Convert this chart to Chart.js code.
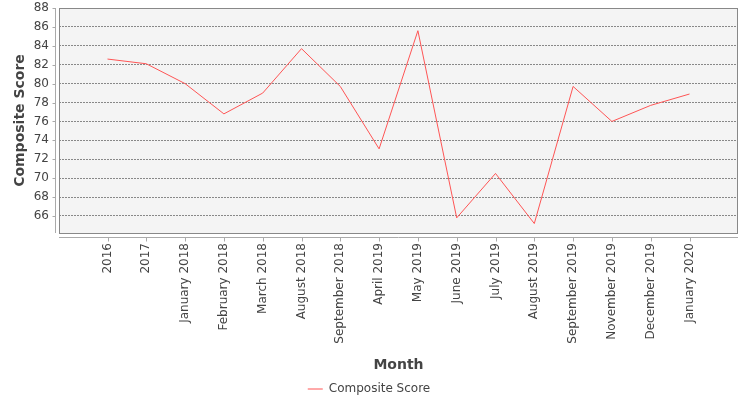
<!DOCTYPE html>
<html><head><meta charset="utf-8">
<script src="https://cdn.jsdelivr.net/npm/chart.js@4/dist/chart.umd.min.js"></script>
<style>html,body{margin:0;padding:0;background:#fff}</style>
</head><body>
<canvas id="c" width="750" height="400"></canvas>
<script>
const months = ['2016','2017','January 2018','February 2018','March 2018','August 2018','September 2018','April 2019','May 2019','June 2019','July 2019','August 2019','September 2019','November 2019','December 2019','January 2020'];
const compositeScore = [82.6, 82.1, 80.0, 76.8, 79.0, 83.7, 79.7, 73.1, 85.6, 65.8, 70.5, 65.2, 79.7, 76.0, 77.7, 78.9];
const yTicks = [66,68,70,72,74,76,78,80,82,84,86,88];
const seriesName = 'Composite Score';
const xTitle = 'Month';
const yTitle = 'Composite Score';

Chart.defaults.font.family = 'DejaVu Sans';
Chart.defaults.color = '#444';

const decor = {
  id: 'decor',
  afterLayout(chart) {
    const L = chart.legend;
    if (L) { L.top += 5; L.bottom += 5; }
  },
  beforeDraw(chart) {
    const {ctx, chartArea: a} = chart;
    ctx.save();
    ctx.fillStyle = '#f4f4f4';
    ctx.fillRect(a.left, a.top, a.right - a.left, a.bottom - a.top);
    ctx.strokeStyle = '#888';
    ctx.lineWidth = 1;
    ctx.strokeRect(Math.round(a.left) + 0.5, Math.round(a.top) + 0.5, Math.round(a.right - a.left) - 1, Math.round(a.bottom - a.top));
    ctx.restore();
  },
  afterDraw(chart) {
    const {ctx, chartArea: a, scales} = chart;
    ctx.save();
    ctx.strokeStyle = '#aaa';
    ctx.lineWidth = 1;
    ctx.beginPath();
    const ax = Math.round(a.left) - 4 + 0.5;
    ctx.moveTo(ax, a.top); ctx.lineTo(ax, a.bottom);
    scales.y.ticks.forEach(t => {
      const py = Math.round(scales.y.getPixelForValue(t.value)) + 0.5;
      ctx.moveTo(ax - 3, py); ctx.lineTo(ax, py);
    });
    const ay = Math.round(a.bottom) + 4 + 0.5;
    ctx.moveTo(a.left, ay); ctx.lineTo(a.right, ay);
    scales.x.ticks.forEach(t => {
      const px = Math.round(scales.x.getPixelForValue(t.value)) + 0.5;
      ctx.moveTo(px, ay); ctx.lineTo(px, ay + 4);
    });
    ctx.stroke();
    ctx.restore();
  }
};

new Chart(document.getElementById('c'), {
  type: 'line',
  data: {
    datasets: [{
      label: seriesName,
      data: compositeScore.map((v, i) => ({x: i, y: v})),
      borderColor: '#ff5555',
      backgroundColor: '#ff5555',
      borderWidth: 1,
      pointRadius: 0,
      tension: 0,
      fill: false
    }]
  },
  options: {
    responsive: false,
    animation: false,
    devicePixelRatio: 1,
    layout: {padding: {left: 0, right: 12, top: 8, bottom: 0}},
    plugins: {
      tooltip: {enabled: false},
      legend: {
        position: 'bottom',
        labels: {
          usePointStyle: true, pointStyle: 'line', pointStyleWidth: 15, boxHeight: 12,
          color: '#444', font: {size: 12}, padding: 6
        }
      }
    },
    scales: {
      x: {
        type: 'linear', min: -1.25, max: 16.25,
        afterBuildTicks: s => { s.ticks = months.map((m, i) => ({value: i})); },
        afterFit: s => { s.height = 400 - 233 - s.chart.legend.height; },
        ticks: {autoSkip: false, minRotation: 90, maxRotation: 90, padding: 10, color: '#444', font: {size: 12},
          callback: v => months[v]},
        grid: {display: false, drawTicks: false},
        border: {display: false},
        title: {display: true, text: xTitle, color: '#444', font: {size: 14, weight: 'bold'}, padding: {top: 4, bottom: -2}}
      },
      y: {
        min: 64.2, max: 88,
        afterBuildTicks: s => { s.ticks = yTicks.map(v => ({value: v})); },
        afterFit: s => { s.width = 59; s.paddingTop = 0; s.paddingBottom = 0; },
        ticks: {padding: 10, color: '#444', font: {size: 12}},
        grid: {color: '#888', lineWidth: 1, drawTicks: false},
        border: {display: false, dash: [2, 1]},
        title: {display: true, text: yTitle, color: '#444', font: {size: 14, weight: 'bold'}, padding: {top: 12, bottom: 0}}
      }
    }
  },
  plugins: [decor]
});
</script>
</body></html>
